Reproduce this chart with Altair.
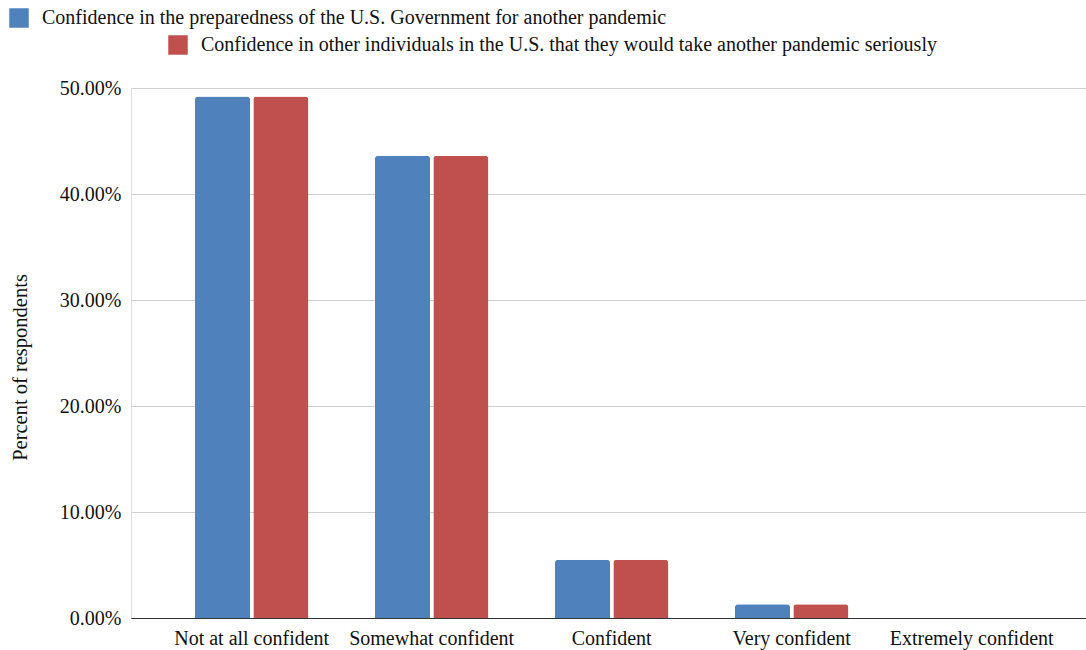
import altair as alt
import pandas as pd

categories = ["Not at all confident", "Somewhat confident", "Confident", "Very confident", "Extremely confident"]
series = [
    "Confidence in the preparedness of the U.S. Government for another pandemic",
    "Confidence in other individuals in the U.S. that they would take another pandemic seriously",
]
gov_values = [0.492, 0.436, 0.055, 0.013, 0.0]
ind_values = [0.492, 0.436, 0.055, 0.013, 0.0]
colors = ["#4F81BD", "#C0504D"]
y_ticks = [0.0, 0.1, 0.2, 0.3, 0.4, 0.5]

rows = []
for c, v in zip(categories, gov_values):
    rows.append({"category": c, "series": series[0], "value": v})
for c, v in zip(categories, ind_values):
    rows.append({"category": c, "series": series[1], "value": v})
df = pd.DataFrame(rows)

FONT = "Liberation Serif"

x_enc = alt.X(
    "category:N",
    sort=categories,
    scale=alt.Scale(paddingInner=0.3704, paddingOuter=0.338, align=0.526),
    axis=alt.Axis(
        title=None, labelAngle=0, labelFontSize=20, labelFont=FONT, labelColor="#111",
        ticks=False, domainColor="#333", domainWidth=1.2, labelPadding=10,
    ),
)
y_enc = alt.Y(
    "value:Q",
    scale=alt.Scale(domain=[0, 0.5], nice=False),
    axis=alt.Axis(
        title="Percent of respondents", format=".2%", values=y_ticks,
        labelFontSize=20, labelFont=FONT, labelColor="#111", labelPadding=10,
        titleFont=FONT, titleFontSize=20.5, titleFontWeight="normal", titleColor="#111",
        titleX=-111, titleY=279, titleAngle=270, titleAlign="center", titleBaseline="middle",
        domain=False, ticks=False, gridColor="#cfcfcf",
    ),
)
xoff = alt.XOffset("series:N", scale=alt.Scale(domain=series, paddingInner=0.057))


def layer(i, lx, ly):
    return (
        alt.Chart(df)
        .transform_filter(alt.FieldEqualPredicate(field="series", equal=series[i]))
        .mark_bar(cornerRadiusTopLeft=3, cornerRadiusTopRight=3)
        .encode(
            x=x_enc,
            y=y_enc,
            xOffset=xoff,
            color=alt.Color(
                "series:N",
                scale=alt.Scale(domain=[series[i]], range=[colors[i]]),
                legend=alt.Legend(
                    title=None, orient="none", legendX=lx, legendY=ly,
                    symbolType="square", symbolSize=380, symbolStrokeWidth=0,
                    labelFont=FONT, labelFontSize=20, labelColor="#111",
                    labelOffset=13, labelLimit=1000, padding=0,
                ),
            ),
        )
    )


chart = (
    alt.layer(layer(0, -122, -80), layer(1, 37, -53))
    .resolve_scale(color="independent")
    .properties(
        width=955,
        height=530,
        autosize=alt.AutoSizeParams(type="none"),
        padding={"left": 131, "top": 88, "right": 0, "bottom": 32},
    )
    .configure_view(stroke=None)
    .configure(background="white")
)

chart.save("out.html", embed_options={"renderer": "svg", "actions": False})
